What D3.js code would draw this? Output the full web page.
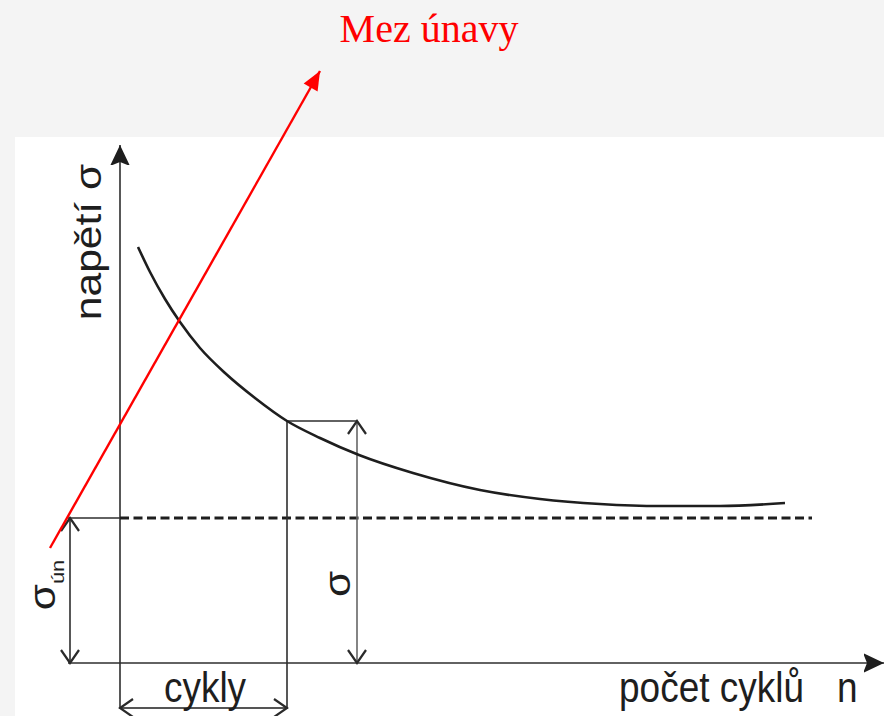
<!DOCTYPE html>
<html>
<head>
<meta charset="utf-8">
<script src="https://cdn.jsdelivr.net/npm/d3@7"></script>
<style>
  body { margin: 0; background: #f3f3f3; }
  svg { display: block; }
  .lbl { font-family: "Liberation Sans", Arial, sans-serif; fill: #1e1e1e; }
</style>
</head>
<body>
<div id="chart"></div>
<script>
// S-N (Wöhler) curve: number of cycles vs. stress, in drawing units.
var curveN     = [18, 30, 45, 60, 80, 105, 135, 167, 200, 239, 293, 360, 420, 480, 540, 600, 665];
var curveSigma = [416, 391, 364, 341, 315, 290, 265, 242, 225, 208, 190, 173, 164, 159, 157, 157, 160];

var fatigueLimit = 145;      // sigma_un, dashed line
var sampleN = 167;           // cycles at the marked stress
var sampleSigma = 242;       // marked stress
var sigmaArrowN = 237;       // where the sigma dimension arrow sits
var limitArrowN = -50;       // where the sigma_un dimension arrow sits
var cyclesArrowSigma = -45;  // where the "cykly" dimension arrow sits
var dashEndN = 692;

// red pointer to the fatigue limit
var pointerN = [-70, 200];
var pointerSigma = [115, 592];

var width = 884, height = 716;

var xScale = d3.scaleLinear().domain([0, 764]).range([120, 884]);
var yScale = d3.scaleLinear().domain([0, 518]).range([663, 145]);

var svg = d3.select("#chart").append("svg")
  .attr("width", width)
  .attr("height", height);

// background: grey slide, white figure panel
svg.append("rect").attr("width", width).attr("height", height).attr("fill", "#f4f4f4");
svg.append("rect").attr("x", 15).attr("y", 137)
  .attr("width", width - 15).attr("height", height - 137).attr("fill", "#fff");

var defs = svg.append("defs");

defs.append("marker")
  .attr("id", "solid")
  .attr("markerUnits", "userSpaceOnUse")
  .attr("viewBox", "-20 -10 20 20")
  .attr("refX", 0).attr("refY", 0)
  .attr("markerWidth", 20).attr("markerHeight", 20)
  .attr("orient", "auto")
  .append("path").attr("d", "M-21,-10L0,0L-21,10L-17,0Z").attr("fill", "#1e1e1e");

defs.append("marker")
  .attr("id", "open")
  .attr("markerUnits", "userSpaceOnUse")
  .attr("viewBox", "-16 -12 20 24")
  .attr("refX", 0).attr("refY", 0)
  .attr("markerWidth", 20).attr("markerHeight", 24)
  .attr("orient", "auto-start-reverse")
  .append("path").attr("d", "M-13,-9L0,0L-13,9")
  .attr("fill", "none").attr("stroke", "#2a2a2a").attr("stroke-width", 2.2);

defs.append("marker")
  .attr("id", "red")
  .attr("markerUnits", "userSpaceOnUse")
  .attr("viewBox", "-20 -10 22 20")
  .attr("refX", 0).attr("refY", 0)
  .attr("markerWidth", 22).attr("markerHeight", 20)
  .attr("orient", "auto")
  .append("path").attr("d", "M-19,-8L0,0L-19,8Z").attr("fill", "#ff0000");

var ink = "#2e2e2e";

// axes
svg.append("line")
  .attr("x1", xScale(-52)).attr("y1", yScale(0))
  .attr("x2", xScale(764)).attr("y2", yScale(0))
  .attr("stroke", ink).attr("stroke-width", 1.6)
  .attr("marker-end", "url(#solid)");

svg.append("line")
  .attr("x1", xScale(0)).attr("y1", yScale(cyclesArrowSigma) + 1)
  .attr("x2", xScale(0)).attr("y2", yScale(518))
  .attr("stroke", ink).attr("stroke-width", 1.6)
  .attr("marker-end", "url(#solid)");

// fatigue limit: thin extension, then the dashed line
svg.append("line")
  .attr("x1", xScale(limitArrowN - 2)).attr("y1", yScale(fatigueLimit))
  .attr("x2", xScale(0)).attr("y2", yScale(fatigueLimit))
  .attr("stroke", ink).attr("stroke-width", 1.4);

svg.append("line")
  .attr("x1", xScale(0)).attr("y1", yScale(fatigueLimit))
  .attr("x2", xScale(dashEndN)).attr("y2", yScale(fatigueLimit))
  .attr("stroke", "#1e1e1e").attr("stroke-width", 2.8)
  .attr("stroke-dasharray", "9,4.5");

// guide at the sample point
svg.append("line")
  .attr("x1", xScale(sampleN)).attr("y1", yScale(cyclesArrowSigma) + 1)
  .attr("x2", xScale(sampleN)).attr("y2", yScale(sampleSigma))
  .attr("stroke", ink).attr("stroke-width", 1.6);

svg.append("line")
  .attr("x1", xScale(sampleN)).attr("y1", yScale(sampleSigma))
  .attr("x2", xScale(sigmaArrowN)).attr("y2", yScale(sampleSigma))
  .attr("stroke", ink).attr("stroke-width", 1.6);

// dimension arrows
svg.append("line")
  .attr("x1", xScale(sigmaArrowN)).attr("y1", yScale(0))
  .attr("x2", xScale(sigmaArrowN)).attr("y2", yScale(sampleSigma))
  .attr("stroke", "#666").attr("stroke-width", 1.6)
  .attr("marker-start", "url(#open)").attr("marker-end", "url(#open)");

svg.append("line")
  .attr("x1", xScale(limitArrowN)).attr("y1", yScale(0))
  .attr("x2", xScale(limitArrowN)).attr("y2", yScale(fatigueLimit))
  .attr("stroke", ink).attr("stroke-width", 1.6)
  .attr("marker-start", "url(#open)").attr("marker-end", "url(#open)");

svg.append("line")
  .attr("x1", xScale(0)).attr("y1", yScale(cyclesArrowSigma))
  .attr("x2", xScale(sampleN)).attr("y2", yScale(cyclesArrowSigma))
  .attr("stroke", "#555").attr("stroke-width", 1.8)
  .attr("marker-start", "url(#open)").attr("marker-end", "url(#open)");

// the curve
var line = d3.line()
  .x(function(d, i) { return xScale(curveN[i]); })
  .y(function(d, i) { return yScale(curveSigma[i]); })
  .curve(d3.curveMonotoneX);

svg.append("path")
  .datum(curveN)
  .attr("d", line)
  .attr("fill", "none")
  .attr("stroke", "#1e1e1e")
  .attr("stroke-width", 2.6);

// red pointer
svg.append("line")
  .attr("x1", xScale(pointerN[0])).attr("y1", yScale(pointerSigma[0]))
  .attr("x2", xScale(pointerN[1])).attr("y2", yScale(pointerSigma[1]))
  .attr("stroke", "#ff0000").attr("stroke-width", 2.4)
  .attr("marker-end", "url(#red)");

svg.append("text")
  .attr("x", 429).attr("y", 42)
  .attr("text-anchor", "middle")
  .style("font-family", "'Liberation Serif', 'Times New Roman', serif")
  .style("font-size", "40px")
  .attr("fill", "#ff0000")
  .text("Mez únavy");

// labels (the figure is slightly stretched vertically)
var stretch = 1.15;

function label(x, y, rot, txt, size) {
  return svg.append("text")
    .attr("class", "lbl")
    .attr("transform", "translate(" + x + "," + y + ") scale(1," + stretch + ")" + (rot ? " rotate(-90)" : ""))
    .style("font-size", size + "px")
    .text(txt);
}

label(101, 242, true, "napětí σ", 37).attr("text-anchor", "middle");
label(205, 702, false, "cykly", 37).attr("text-anchor", "middle");
label(619, 702, false, "počet cyklů", 37);
label(837, 702, false, "n", 37);
label(350, 584, true, "σ", 37).attr("text-anchor", "middle");

var sUn = label(55, 585, true, "", 37).attr("text-anchor", "middle");
sUn.append("tspan").text("σ");
sUn.append("tspan").attr("dy", 9).style("font-size", "19px").text("ún");
</script>
</body>
</html>
